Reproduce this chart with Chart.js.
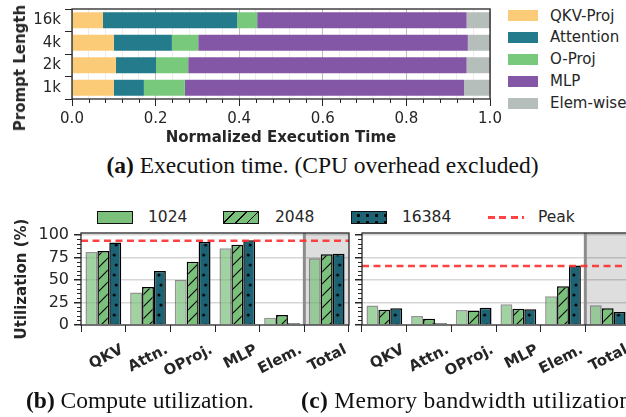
<!DOCTYPE html>
<html>
<head>
<meta charset="utf-8">
<script src="https://cdn.jsdelivr.net/npm/chart.js@4.4.1/dist/chart.umd.min.js"></script>
<style>
  body { margin: 0; background: #fff; }
  #wrap { position: relative; width: 626px; height: 417px; overflow: hidden; background: #fff; }
  canvas { position: absolute; }
  .txt { position: absolute; font-family: 'DejaVu Sans', sans-serif; color: #262626; white-space: nowrap; }
  .cap { position: absolute; font-family: 'Liberation Serif', serif; font-size: 23.5px; line-height: 24px; color: #111; white-space: nowrap; }
  .sw { position: absolute; box-sizing: border-box; }
</style>
</head>
<body>
<div id="wrap">
  <canvas id="execChart" width="506" height="150" style="left:0;top:0"></canvas>
  <div class="txt" style="left:20px;top:68px;font-size:15px;font-weight:bold;transform:translate(-50%,-50%) rotate(-90deg)">Prompt Length</div>
  <div id="execLegend"></div>
  <div class="cap" style="left:0;top:153px;width:645px;text-align:center"><b>(a)</b> Execution time. (CPU overhead excluded)</div>

  <div id="utilLegend"></div>
  <canvas id="computeChart" width="358" height="180" style="left:0;top:210px"></canvas>
  <canvas id="memoryChart" width="290" height="180" style="left:355px;top:210px"></canvas>
  <div class="cap" style="left:26px;top:388px"><b>(b)</b> Compute utilization.</div>
  <div class="cap" style="left:301px;top:388px;letter-spacing:0.35px"><b>(c)</b> Memory bandwidth utilization.</div>
</div>
<script>
// (a) execution time breakdown, fraction of total
const promptLabels = ['16k', '4k', '2k', '1k'];
const qkvProj   = [0.074, 0.100, 0.105, 0.100];
const attention = [0.321, 0.139, 0.096, 0.072];
const oProj     = [0.048, 0.063, 0.077, 0.098];
const mlp       = [0.501, 0.645, 0.666, 0.668];
const elemWise  = [0.056, 0.053, 0.056, 0.062];

// (b)/(c) utilization in %, per prompt length
const opLabels = ['QKV', 'Attn.', 'OProj.', 'MLP', 'Elem.', 'Total'];
const compute1024  = [81, 36, 50, 85, 8, 74];
const compute2048  = [82, 42, 70, 89, 11, 78.5];
const compute16384 = [91.5, 60, 92, 94, 2, 79];
const memory1024   = [21.5, 10, 16.5, 23, 32, 22];
const memory2048   = [17, 7, 16, 18, 43, 18.5];
const memory16384  = [18.5, 2, 19, 17.5, 66, 14.5];
const peakCompute = 93.5;
const peakMemory = 65.5;

const execColors = ['#fccb77', '#237b8b', '#79c97d', '#8457a6', '#b5bebb'];
const execNames = ['QKV-Proj', 'Attention', 'O-Proj', 'MLP', 'Elem-wise'];

Chart.defaults.font.family = "'DejaVu Sans', sans-serif";
Chart.defaults.color = '#262626';

const isMult = (v, step) => Math.abs(v / step - Math.round(v / step)) < 1e-6;
const noPad = s => { s.paddingLeft = 0; s.paddingRight = 0; s.paddingTop = 0; s.paddingBottom = 0; };

function hatch(bg) {
  const c = document.createElement('canvas');
  c.width = 12; c.height = 12;
  const g = c.getContext('2d');
  g.fillStyle = bg; g.fillRect(0, 0, 12, 12);
  g.strokeStyle = '#000'; g.lineWidth = 1.1;
  g.beginPath();
  g.moveTo(-1, 13); g.lineTo(13, -1);
  g.moveTo(-7, 7); g.lineTo(7, -7);
  g.moveTo(5, 19); g.lineTo(19, 5);
  g.stroke();
  return g.createPattern(c, 'repeat');
}

// dotted fill, shifted so the dots sit in the middle of each bar
function dots(bg, shiftX) {
  const c = document.createElement('canvas');
  c.width = 12; c.height = 20;
  const g = c.getContext('2d');
  g.fillStyle = bg; g.fillRect(0, 0, 12, 20);
  g.fillStyle = '#000';
  [[5, 5], [7, 15]].forEach(([x, y]) => {
    g.beginPath(); g.arc(x, y, 1.5, 0, Math.PI * 2); g.fill();
  });
  const p = g.createPattern(c, 'repeat');
  p.setTransform(new DOMMatrix().translate(shiftX, 0));
  return p;
}

// frame, minor ticks, shaded "Total" column, peak line
const extras = {
  id: 'extras',
  beforeDraw(chart, args, o) {
    if (o.shadeFrom == null) return;
    const { ctx, chartArea: a, scales: { x } } = chart;
    const edge = (x.getPixelForValue(o.shadeFrom - 1) + x.getPixelForValue(o.shadeFrom)) / 2;
    ctx.save();
    ctx.fillStyle = '#dedede';
    ctx.fillRect(edge, a.top, a.right - edge, a.bottom - a.top);
    ctx.restore();
  },
  beforeDatasetsDraw(chart, args, o) {
    if (o.shadeFrom == null) return;
    const { ctx, chartArea: a, scales: { x } } = chart;
    const edge = (x.getPixelForValue(o.shadeFrom - 1) + x.getPixelForValue(o.shadeFrom)) / 2;
    ctx.save();
    ctx.strokeStyle = '#8c8c8c'; ctx.lineWidth = 3;
    ctx.beginPath(); ctx.moveTo(edge, a.top); ctx.lineTo(edge, a.bottom); ctx.stroke();
    ctx.restore();
  },
  afterDatasetsDraw(chart, args, o) {
    const { ctx, chartArea: a } = chart;
    ctx.save();
    if (o.peak != null) {
      const y = chart.scales.y.getPixelForValue(o.peak);
      ctx.strokeStyle = 'rgba(255,45,45,0.9)'; ctx.lineWidth = 2.5;
      ctx.setLineDash([7, 4.5]);
      ctx.beginPath(); ctx.moveTo(a.left, y); ctx.lineTo(a.right, y); ctx.stroke();
      ctx.setLineDash([]);
    }
    if (o.minor) {
      const m = o.minor, s = chart.scales[m.axis];
      ctx.strokeStyle = '#262626'; ctx.lineWidth = 1;
      ctx.beginPath();
      const n = Math.round((s.max - s.min) / m.step);
      for (let i = 0; i <= n; i++) {
        const v = s.min + i * m.step;
        if (isMult(v, m.major)) continue;
        const p = Math.round(s.getPixelForValue(v)) + 0.5;
        if (m.axis === 'x') { ctx.moveTo(p, a.bottom); ctx.lineTo(p, a.bottom + m.len); }
        else { ctx.moveTo(a.left - m.len, p); ctx.lineTo(a.left, p); }
      }
      ctx.stroke();
    }
    ctx.strokeStyle = '#262626'; ctx.lineWidth = 1.3;
    ctx.strokeRect(a.left, a.top, a.right - a.left, a.bottom - a.top);
    ctx.restore();
  }
};

// ---- (a) stacked horizontal bars
new Chart(document.getElementById('execChart'), {
  type: 'bar',
  plugins: [extras],
  data: {
    labels: promptLabels,
    datasets: [qkvProj, attention, oProj, mlp, elemWise].map((d, i) => ({
      label: execNames[i], data: d, backgroundColor: execColors[i],
      borderWidth: 0, barPercentage: 0.71, categoryPercentage: 1
    }))
  },
  options: {
    indexAxis: 'y',
    responsive: false,
    animation: false,
    layout: { padding: { top: 9, right: 16, left: 0, bottom: 0 } },
    plugins: {
      legend: { display: false },
      tooltip: { enabled: false },
      extras: { minor: { axis: 'x', step: 0.04, major: 0.2, len: 4 } }
    },
    scales: {
      x: {
        type: 'linear', stacked: true, min: 0, max: 1,
        afterFit: s => { s.height = 51; noPad(s); },
        border: { display: false },
        grid: {
          color: c => (c.tick && isMult(c.tick.value, 0.2)) ? '#bdbdbd' : '#ececec',
          tickLength: 7,
          tickColor: c => (c.tick && isMult(c.tick.value, 0.2)) ? '#262626' : 'transparent'
        },
        ticks: {
          stepSize: 0.04, autoSkip: false, maxRotation: 0, padding: 4,
          font: { size: 15 },
          callback: v => isMult(v, 0.2) ? v.toFixed(1) : ''
        },
        title: {
          display: true, text: 'Normalized Execution Time',
          font: { size: 15, weight: 'bold' }, padding: { top: 0, bottom: 3 }
        }
      },
      y: {
        stacked: true,
        afterFit: s => { s.width = 72; noPad(s); },
        border: { display: false },
        grid: { drawOnChartArea: false, tickLength: 7, tickColor: '#262626' },
        ticks: { font: { size: 15 }, padding: 4 }
      }
    }
  }
});

// legend for (a)
const execLegend = document.getElementById('execLegend');
execNames.forEach((name, i) => {
  const cy = 15.5 + i * 21.9;
  execLegend.insertAdjacentHTML('beforeend',
    `<div class="sw" style="left:508px;top:${cy - 5.5}px;width:30px;height:11px;background:${execColors[i]}"></div>` +
    `<div class="txt" style="left:550px;top:${cy - 9}px;font-size:15px;line-height:18px">${name}</div>`);
});

// ---- (b)/(c) grouped bars
const green = '#79c07a';
const teal = '#1d6373';

function utilChart(id, a, b, c, peak, showY) {
  const dotFill = ctx => {
    const xs = ctx.chart.scales.x;
    const bw = (xs.right - xs.left) / opLabels.length * 0.8 / 3;
    return dots(teal, xs.getPixelForValue(ctx.dataIndex) + bw - 6);
  };
  return new Chart(document.getElementById(id), {
    type: 'bar',
    plugins: [extras],
    data: {
      labels: opLabels,
      datasets: [
        { label: '1024', data: a, backgroundColor: 'rgba(121,192,122,0.7)', borderColor: 'rgba(60,60,60,0.55)', borderWidth: 1.5 },
        { label: '2048', data: b, backgroundColor: hatch(green), borderColor: '#000', borderWidth: 1.5 },
        { label: '16384', data: c, backgroundColor: dotFill, borderColor: '#000', borderWidth: 1.5 }
      ]
    },
    options: {
      responsive: false,
      animation: false,
      datasets: { bar: { barPercentage: 1, categoryPercentage: 0.8 } },
      layout: { padding: { top: 23, right: showY ? 9 : 15, left: 0, bottom: 0 } },
      plugins: {
        legend: { display: false },
        tooltip: { enabled: false },
        extras: { shadeFrom: 5, peak: peak, minor: { axis: 'y', step: 5, major: 25, len: 4 } }
      },
      scales: {
        x: {
          afterFit: s => { s.height = 65; noPad(s); },
          border: { display: false },
          grid: { drawOnChartArea: false, tickLength: 7, tickColor: '#262626' },
          ticks: {
            autoSkip: false, minRotation: 27, maxRotation: 27, padding: 9,
            labelOffset: 19,
            font: { size: 15, weight: 'bold' }
          }
        },
        y: {
          min: 0, max: 102,
          afterFit: s => { s.width = showY ? 81 : 7; noPad(s); },
          border: { display: false },
          grid: {
            color: c => (c.tick && c.tick.value % 25 === 0 && c.tick.value > 0) ? 'rgba(0,0,0,0.16)' : 'transparent',
            lineWidth: 1.5,
            tickLength: 7,
            tickColor: c => (c.tick && c.tick.value % 25 === 0) ? '#262626' : 'transparent'
          },
          ticks: {
            display: showY, stepSize: 5, includeBounds: false, autoSkip: false, padding: 5,
            font: { size: 16 },
            callback: v => v % 25 === 0 ? v : ''
          },
          title: {
            display: showY, text: 'Utilization (%)',
            font: { size: 15, weight: 'bold' }, padding: { top: 13, bottom: 0 }
          }
        }
      }
    }
  });
}

utilChart('computeChart', compute1024, compute2048, compute16384, peakCompute, true);
utilChart('memoryChart', memory1024, memory2048, memory16384, peakMemory, false);

// shared legend for (b)/(c)
const utilLegend = document.getElementById('utilLegend');
const swatches = [
  { x: 97, text: '1024', tx: 148, css: `background:#7bc17c;border:1.5px solid #111` },
  { x: 223, text: '2048', tx: 275, css: `background:repeating-linear-gradient(135deg,${green} 0 7px,#000 7px 8.2px);border:1.5px solid #111` },
  { x: 351, text: '16384', tx: 402, css: `background:radial-gradient(circle,#000 1.3px,transparent 1.8px) 2px 0/9px 7px,${teal};border:1.5px solid #111` }
];
swatches.forEach(s => {
  utilLegend.insertAdjacentHTML('beforeend',
    `<div class="sw" style="left:${s.x}px;top:210.5px;width:36px;height:13px;${s.css}"></div>` +
    `<div class="txt" style="left:${s.tx}px;top:208px;font-size:15.5px;line-height:18px">${s.text}</div>`);
});
utilLegend.insertAdjacentHTML('beforeend',
  `<div class="sw" style="left:488px;top:216px;width:36px;height:2.5px;background:repeating-linear-gradient(90deg,rgba(255,45,45,0.9) 0 7px,transparent 7px 11.5px)"></div>` +
  `<div class="txt" style="left:538px;top:208px;font-size:15.5px;line-height:18px">Peak</div>`);
</script>
</body>
</html>
